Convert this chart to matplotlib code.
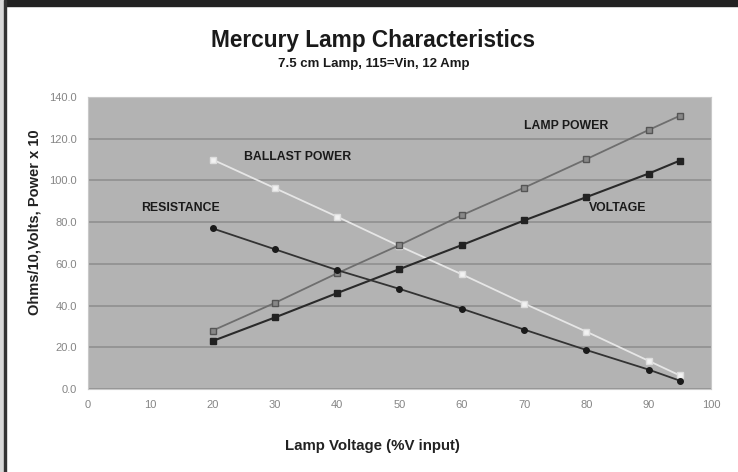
import matplotlib
matplotlib.use("Agg")
import matplotlib.pyplot as plt
from matplotlib.patches import Rectangle

# data
lamp_voltage = [20, 30, 40, 50, 60, 70, 80, 90, 95]
resistance = [77, 67, 57, 48, 38.5, 28.5, 18.7, 9.3, 4]
voltage = [23, 34.3, 46, 57.5, 69, 80.8, 92, 103.3, 109.5]
lamp_power = [28, 41.3, 55.5, 69, 83.3, 96.5, 110.2, 124.2, 131]
ballast_power = [110, 96.3, 82.6, 68.5, 55, 41, 27.5, 13.5, 6.5]

x_ticks = [0, 10, 20, 30, 40, 50, 60, 70, 80, 90, 100]
y_ticks = [0, 20, 40, 60, 80, 100, 120, 140]

plt.rcParams['font.family'] = ['Liberation Sans', 'DejaVu Sans']

fig = plt.figure(figsize=(7.38, 4.72), dpi=100)
ax = fig.add_axes([0.1192, 0.1758, 0.8442, 0.6187])

ax.set_facecolor('#b3b3b3')
ax.set_xlim(0, 100)
ax.set_ylim(0, 140)
ax.set_xticks(x_ticks)
ax.set_yticks(y_ticks)
ax.set_yticklabels([f"{v:.1f}" for v in y_ticks])
ax.tick_params(labelsize=8, colors='#858585', length=0, pad=8)
ax.yaxis.grid(True, color='#8f8f8f', linewidth=1.2)
ax.set_axisbelow(True)
for s in ax.spines.values():
    s.set_color('#c8c8c8')
    s.set_linewidth(0.8)

ax.plot(lamp_voltage, ballast_power, color='#e6e6e6', lw=1.3,
        marker='s', ms=4, mfc='#f2f2f2', mec='#dddddd')
ax.plot(lamp_voltage, lamp_power, color='#6e6e6e', lw=1.3,
        marker='s', ms=4, mfc='#888888', mec='#555555')
ax.plot(lamp_voltage, voltage, color='#2a2a2a', lw=1.5,
        marker='s', ms=4, mfc='#222222', mec='#222222')
ax.plot(lamp_voltage, resistance, color='#333333', lw=1.3,
        marker='o', ms=4, mfc='#1a1a1a', mec='#1a1a1a')

lbl = dict(fontsize=8.8, fontweight='bold', color='#1a1a1a', ha='center', va='center')
ax.text(14.8, 87, 'RESISTANCE', **lbl)
ax.text(33.6, 111, 'BALLAST POWER', **lbl)
ax.text(76.8, 126, 'LAMP POWER', **lbl)
ax.text(85.1, 87, 'VOLTAGE', **lbl)

fig.text(0.505, 1 - 446 / 472, 'Lamp Voltage (%V input)', fontsize=10.8,
         fontweight='bold', color='#222222', ha='center', va='center')
fig.text(0.047, 1 - 222 / 472, 'Ohms/10,Volts, Power x 10', rotation=90, fontsize=10.5,
         fontweight='bold', color='#222222', ha='center', va='center')

fig.text(0.506, 1 - 40 / 472, 'Mercury Lamp Characteristics', fontsize=16.3,
         fontweight='bold', color='#1a1a1a', ha='center', va='center')
fig.text(0.506, 1 - 64 / 472, '7.5 cm Lamp, 115=Vin, 12 Amp', fontsize=9.5,
         fontweight='bold', color='#1a1a1a', ha='center', va='center')

# frame of the original picture
fig.patches.append(Rectangle((0, 1 - 6 / 472), 1, 6 / 472, transform=fig.transFigure,
                             color='#222222', zorder=5))
fig.patches.append(Rectangle((0, 0), 4 / 738, 1, transform=fig.transFigure,
                             color='#d8d8d8', zorder=5))
fig.patches.append(Rectangle((4 / 738, 0), 2 / 738, 1, transform=fig.transFigure,
                             color='#333333', zorder=5))

fig.savefig('out.png', dpi=100)
